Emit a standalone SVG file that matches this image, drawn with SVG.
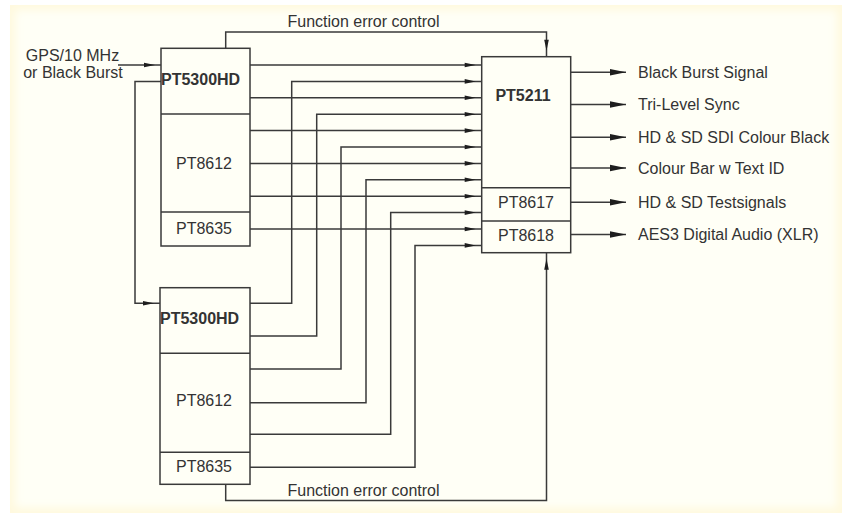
<svg xmlns="http://www.w3.org/2000/svg" width="842" height="513" viewBox="0 0 842 513">
<style>
.box{fill:none;stroke:#3a3a3a;stroke-width:1.5}
.ln{fill:none;stroke:#3a3a3a;stroke-width:1.5}
.t{font-family:"Liberation Sans",Arial,sans-serif;font-size:16px;fill:#333}
.b{font-weight:bold}
.m{text-anchor:middle}
</style>
<defs>
<marker id="ai" markerUnits="userSpaceOnUse" markerWidth="20" markerHeight="8" refX="17" refY="2.5" orient="auto" overflow="visible">
<path d="M0,0.2 L11,2.5 L0,4.8 z" fill="#1e1e1e"/>
</marker>
<marker id="ao" markerUnits="userSpaceOnUse" markerWidth="20" markerHeight="10" refX="16" refY="3.5" orient="auto" overflow="visible">
<path d="M0,0.3 L16,3.5 L0,6.7 z" fill="#1e1e1e"/>
</marker>
<filter id="soft" x="-5%" y="-5%" width="110%" height="110%">
<feGaussianBlur stdDeviation="4"/>
</filter>
</defs>
<rect width="842" height="513" fill="#ffffff"/>
<rect x="10" y="5" width="832" height="508" fill="#fff9de"/>
<rect x="15" y="10" width="822" height="498" fill="#fffff6" filter="url(#soft)"/>

<g id="connectors">
<path class="ln" d="M118,65 H161" marker-end="url(#ai)"/>
<path class="ln" d="M161,81.4 H135 V303.3 H160" marker-end="url(#ai)"/>
<path class="ln" d="M225.7,48.3 V32 H546.5 V56.7" marker-end="url(#ai)"/>
<path class="ln" d="M225.7,484.3 V500.5 H546.5 V252.7" marker-end="url(#ai)"/>
<path class="ln" d="M250,65 H481.7" marker-end="url(#ai)"/>
<path class="ln" d="M250,97.8 H481.7" marker-end="url(#ai)"/>
<path class="ln" d="M250,130.6 H481.7" marker-end="url(#ai)"/>
<path class="ln" d="M250,163.4 H481.7" marker-end="url(#ai)"/>
<path class="ln" d="M250,196.2 H481.7" marker-end="url(#ai)"/>
<path class="ln" d="M250,229 H481.7" marker-end="url(#ai)"/>
<path class="ln" d="M250,303.3 H291.7 V81.4 H481.7" marker-end="url(#ai)"/>
<path class="ln" d="M250,336 H316.7 V114.2 H481.7" marker-end="url(#ai)"/>
<path class="ln" d="M250,369 H341 V147 H481.7" marker-end="url(#ai)"/>
<path class="ln" d="M250,402.7 H366 V179.8 H481.7" marker-end="url(#ai)"/>
<path class="ln" d="M250,434.3 H390.7 V212.6 H481.7" marker-end="url(#ai)"/>
<path class="ln" d="M250,467.3 H415 V245.4 H481.7" marker-end="url(#ai)"/>
<path class="ln" d="M570.7,72.3 H626" marker-end="url(#ao)"/>
<path class="ln" d="M570.7,104.5 H626" marker-end="url(#ao)"/>
<path class="ln" d="M570.7,137.3 H626" marker-end="url(#ao)"/>
<path class="ln" d="M570.7,168 H626" marker-end="url(#ao)"/>
<path class="ln" d="M570.7,202.3 H626" marker-end="url(#ao)"/>
<path class="ln" d="M570.7,234.5 H626" marker-end="url(#ao)"/>
<text class="t" x="287.5" y="26.5">Function error control</text>
<text class="t" x="287.5" y="495.5">Function error control</text>
</g>

<g id="input-label">
<text class="t m" x="72.5" y="61">GPS/10 MHz</text>
<text class="t m" x="73" y="77.5">or Black Burst</text>
</g>

<g id="top-unit">
<rect class="box" x="161" y="48.3" width="89" height="197.7"/>
<line class="box" x1="161" y1="114" x2="250" y2="114"/>
<line class="box" x1="161" y1="212" x2="250" y2="212"/>
<text class="t b" x="161" y="85" font-size="14.6">PT5300HD</text>
<text class="t m" x="204" y="168.5">PT8612</text>
<text class="t m" x="204" y="233.5">PT8635</text>
</g>

<g id="bottom-unit">
<rect class="box" x="160" y="287.7" width="90" height="196.6"/>
<line class="box" x1="160" y1="353.3" x2="250" y2="353.3"/>
<line class="box" x1="160" y1="452.3" x2="250" y2="452.3"/>
<text class="t b" x="160" y="323.5" font-size="14.6">PT5300HD</text>
<text class="t m" x="204" y="406">PT8612</text>
<text class="t m" x="204" y="471.7">PT8635</text>
</g>

<g id="pt5211">
<rect class="box" x="481.7" y="56.7" width="89" height="196"/>
<line class="box" x1="481.7" y1="187.7" x2="570.7" y2="187.7"/>
<line class="box" x1="481.7" y1="221" x2="570.7" y2="221"/>
<text class="t b m" x="523" y="100.7">PT5211</text>
<text class="t m" x="526" y="207.5">PT8617</text>
<text class="t m" x="526" y="241">PT8618</text>
</g>

<g id="outputs">
<text class="t" x="638" y="77.5">Black Burst Signal</text>
<text class="t" x="638" y="109.5">Tri-Level Sync</text>
<text class="t" x="638" y="142.5">HD &amp; SD SDI Colour Black</text>
<text class="t" x="638" y="174">Colour Bar w Text ID</text>
<text class="t" x="638" y="207.5">HD &amp; SD Testsignals</text>
<text class="t" x="638" y="240">AES3 Digital Audio (XLR)</text>
</g>
</svg>
